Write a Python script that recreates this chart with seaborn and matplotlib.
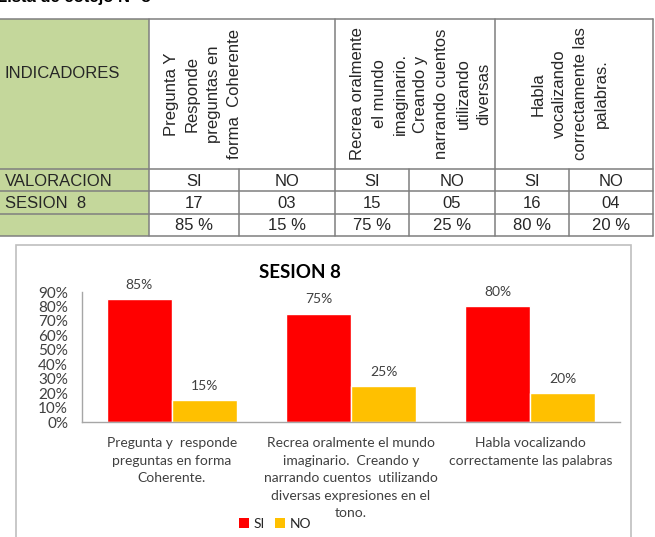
import numpy as np
import pandas as pd
import seaborn as sns
import matplotlib.pyplot as plt
from matplotlib.patches import Rectangle, Patch
from matplotlib.ticker import PercentFormatter

# --- data ---
valoracion = ["SI", "NO"]
si_count = ["17", "15", "16"]
no_count = ["03", "05", "04"]
si_pct = [85, 75, 80]
no_pct = [15, 25, 20]
table_headers = [
    "Pregunta Y\nResponde\npreguntas en\nforma  Coherente",
    "Recrea oralmente\nel mundo\nimaginario.\nCreando y\nnarrando cuentos\nutilizando\ndiversas",
    "Habla\nvocalizando\ncorrectamente las\npalabras.",
]
chart_labels = [
    "Pregunta y  responde\npreguntas en forma\nCoherente.",
    "Recrea oralmente el mundo\nimaginario.  Creando y\nnarrando cuentos  utilizando\ndiversas expresiones en el\ntono.",
    "Habla vocalizando\ncorrectamente las palabras",
]
title = "SESION 8"

colors = {"SI": "#FF0000", "NO": "#FFC000"}

df = pd.DataFrame({
    "indicador": chart_labels * 2,
    "valoracion": ["SI"] * 3 + ["NO"] * 3,
    "pct": [v / 100 for v in si_pct + no_pct],
})

sns.set_theme(style="white")
plt.rcParams["font.family"] = ["Liberation Sans", "DejaVu Sans"]

fig = plt.figure(figsize=(6.55, 5.37), dpi=100)

# background canvas in pixel coords (y down) for the table
bg = fig.add_axes([0, 0, 1, 1])
bg.set_xlim(0, 655)
bg.set_ylim(537, 0)
bg.axis("off")

# heading cut off by the top edge, as in the source
bg.text(-3, 2, "Lista de cotejo N° 8", fontsize=12, fontweight="bold",
        ha="left", va="baseline", color="black")

grid_c = "#7f7f7f"
col_x = [149, 239, 335, 409, 495, 569, 653]
row_y = [19, 169, 191, 214, 236]
bg.add_patch(Rectangle((0, 19), 149, 217, facecolor="#C4D79B", edgecolor="none"))
for y in row_y:
    bg.plot([0, 653], [y, y], color=grid_c, lw=1.1)
for i, x in enumerate(col_x):
    if i in (0, 2, 4, 6):
        bg.plot([x, x], [19, 236], color=grid_c, lw=1.1)
    else:
        bg.plot([x, x], [169, 236], color=grid_c, lw=1.1)

tfs = 12
bg.text(5, 74, "INDICADORES", fontsize=tfs, ha="left", va="center")
bg.text(5, 181, "VALORACION", fontsize=tfs, ha="left", va="center")
bg.text(5, 203, "SESION  8", fontsize=tfs, ha="left", va="center")

header_x = [203, 421, 570]
for hx, h in zip(header_x, table_headers):
    bg.text(hx, 94, h, fontsize=tfs, rotation=90, ha="center", va="center",
            multialignment="center", linespacing=1.5)

for i in range(3):
    cx_si = (col_x[2 * i] + col_x[2 * i + 1]) / 2
    cx_no = (col_x[2 * i + 1] + col_x[2 * i + 2]) / 2
    bg.text(cx_si, 181, valoracion[0], fontsize=tfs, ha="center", va="center")
    bg.text(cx_no, 181, valoracion[1], fontsize=tfs, ha="center", va="center")
    bg.text(cx_si, 203, si_count[i], fontsize=tfs, ha="center", va="center")
    bg.text(cx_no, 203, no_count[i], fontsize=tfs, ha="center", va="center")
    bg.text(cx_si, 226, f"{si_pct[i]} %", fontsize=tfs, ha="center", va="center")
    bg.text(cx_no, 226, f"{no_pct[i]} %", fontsize=tfs, ha="center", va="center")

# chart frame
bg.add_patch(Rectangle((16, 245), 615, 300, facecolor="white",
                       edgecolor="#BFBFBF", lw=1.2))

# --- chart ---
cfont = ["Lato", "DejaVu Sans"]
txt_c = "#404040"
ax = fig.add_axes([82 / 655, 115 / 537, 538 / 655, 130 / 537])
sns.barplot(data=df, x="indicador", y="pct", hue="valoracion",
            palette=colors, saturation=1, width=0.725, ax=ax, legend=False)
ax.set_xlim(-0.5, 2.5)
ax.set_ylim(0, 0.9)
ax.set_yticks(np.arange(0, 0.91, 0.1))
ax.yaxis.set_major_formatter(PercentFormatter(1.0, decimals=0))
ax.set_xlabel("")
ax.set_ylabel("")
for sp in ["top", "right"]:
    ax.spines[sp].set_visible(False)
for sp in ["left", "bottom"]:
    ax.spines[sp].set_color("#A6A6A6")
    ax.spines[sp].set_linewidth(1.0)
ax.tick_params(axis="both", length=0, colors=txt_c)
ax.tick_params(axis="y", pad=10)
for lab in ax.get_yticklabels():
    lab.set_family(cfont)
    lab.set_fontsize(11)
ax.set_xticks(range(3))
ax.set_xticklabels(chart_labels, fontsize=10, family=cfont, linespacing=1.55,
                   va="top")
ax.tick_params(axis="x", pad=11)

for cont, vals in zip(ax.containers, [si_pct, no_pct]):
    ax.bar_label(cont, labels=[f"{v}%" for v in vals], padding=6,
                 fontsize=10, family=cfont, color=txt_c)

fig.text(300 / 655, 1 - 272 / 537, title, fontsize=13.5, fontweight="bold",
         family=cfont, ha="center", va="center", color="black")

handles = [Patch(facecolor=colors[v], edgecolor="none") for v in valoracion]
fig.legend(handles, valoracion, loc="center", bbox_to_anchor=(275 / 655, 1 - 524 / 537),
           ncol=2, frameon=False, handlelength=0.7, handleheight=0.7,
           handletextpad=0.3, columnspacing=0.8,
           prop={"family": cfont, "size": 10})

fig.savefig("out.png", dpi=100)
